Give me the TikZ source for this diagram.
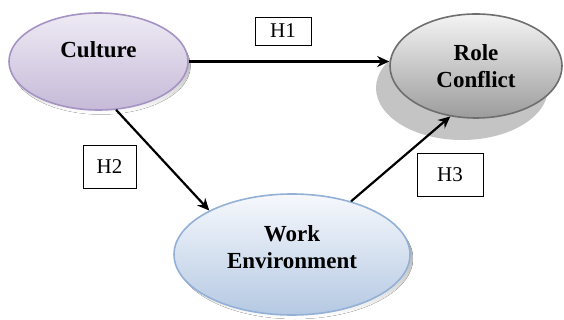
\documentclass[tikz,border=0pt]{standalone}
\usepackage{fontspec}
\setmainfont{Liberation Serif}
\usetikzlibrary{shapes.geometric,arrows.meta}
\definecolor{culTop}{HTML}{EEEAF4}
\definecolor{culBot}{HTML}{C6BAD8}
\definecolor{culLine}{HTML}{A593C4}
\definecolor{rcTop}{HTML}{F4F4F4}
\definecolor{rcBot}{HTML}{9C9C9C}
\definecolor{rcLine}{HTML}{6E6E6E}
\definecolor{weTop}{HTML}{F6F8FC}
\definecolor{weBot}{HTML}{B5C9E3}
\definecolor{weLine}{HTML}{93B1D6}
\definecolor{shade}{HTML}{9A9A9A}
\definecolor{shadeLight}{HTML}{C4C4C4}
\begin{document}
\begin{tikzpicture}[x=1pt,y=-1pt,
  ell/.style={ellipse, inner sep=0pt, align=center, line width=1.6pt,
    font=\fontsize{23}{27}\selectfont\bfseries},
  hbox/.style={draw, line width=0.9pt, inner sep=0pt,
    font=\fontsize{21}{24}\selectfont},
  arr/.style={line width=2.2pt, -{Stealth[length=12pt,width=11pt]}}]
\useasboundingbox (0,0) rectangle (564,320);
% shadows
\fill[shade] (101,66) ellipse [x radius=89.5, y radius=48.5];
\fill[shadeLight] (462,88) ellipse [x radius=86, y radius=52];
\fill[shade] (295,258.5) ellipse [x radius=118, y radius=60.5];
% ellipses
\node[ell, draw=culLine, top color=culTop, bottom color=culBot,
  minimum width=179pt, minimum height=97pt, text depth=24pt] (cul) at (98.5,61.5) {Culture};
\node[ell, draw=rcLine, top color=rcTop, bottom color=rcBot,
  minimum width=172pt, minimum height=104pt] (rc) at (476,66) {Role\\Conflict};
\node[ell, draw=weLine, top color=weTop, bottom color=weBot,
  minimum width=236pt, minimum height=121pt, text depth=14pt] (we) at (292,254.5) {Work\\Environment};
% hypothesis boxes
\node[hbox, minimum width=56pt, minimum height=28pt] (h1) at (283,31) {H1};
\node[hbox, minimum width=53pt, minimum height=43pt] (h2) at (109.5,166.5) {H2};
\node[hbox, minimum width=66pt, minimum height=43pt] (h3) at (450,174.5) {H3};
% connectors
\draw[arr] (cul.east) -- (cul.east -| rc.west);
\draw[arr] (cul.-70) -- (we.152);
\draw[arr] (we.42) -- (rc.-117);
\end{tikzpicture}
\end{document}
